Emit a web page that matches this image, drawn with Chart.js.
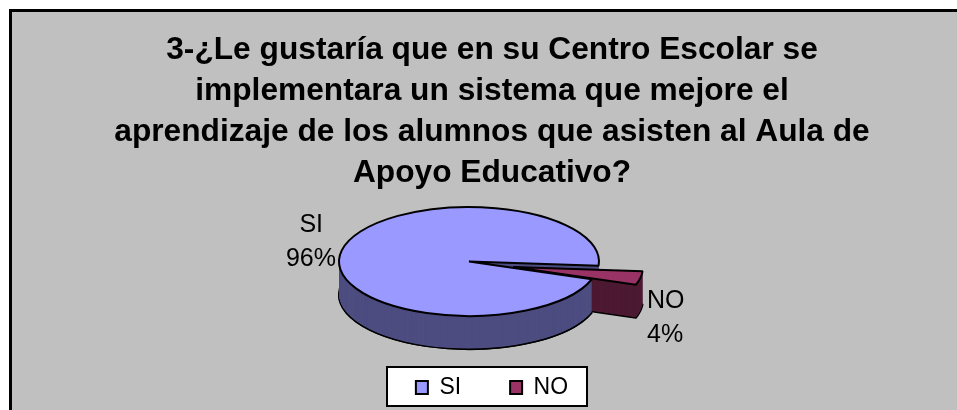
<!DOCTYPE html>
<html>
<head>
<meta charset="utf-8">
<style>
  html, body { margin: 0; padding: 0; background: #fff; }
  #wrap { width: 957px; height: 410px; }
</style>
<script src="https://cdn.jsdelivr.net/npm/chart.js@4"></script>
</head>
<body>
<div id="wrap"><canvas id="chart" width="957" height="410"></canvas></div>
<script>
var titleLines = [
    '3-¿Le gustaría que en su Centro Escolar se',
    'implementara un sistema que mejore el',
    'aprendizaje de los alumnos que asisten al Aula de',
    'Apoyo Educativo?'
];
var categories = ['SI', 'NO'];
var values = [96, 4];
var topColors = ['#9999ff', '#993366'];
var wallColors = ['#4d4d80', '#4d1a33'];

var FONT = '"Liberation Sans", Arial, sans-serif';

// look of the tilted pie
var pieCx = 469, pieCy = 261.5, pieRx = 130, pieRy = 54.5, pieDepth = 33;
var explodeX = 44, explodeY = 5.5;
var labelSize = 25;

function drawArc(ctx, arc, fill, stroke, dy) {
    var opts = Object.create(arc.options);
    opts.backgroundColor = fill;
    opts.borderColor = '#000';
    opts.borderWidth = stroke ? 2 : 0;
    var keep = arc.options;
    arc.options = opts;
    ctx.save();
    ctx.translate(0, dy);
    arc.draw(ctx);
    ctx.restore();
    arc.options = keep;
}

function drawWall(ctx, arc, color, depth, step) {
    drawArc(ctx, arc, color, true, depth);
    for (var d = depth - step; d > 0; d -= step) drawArc(ctx, arc, color, false, d);
}

var piePlugin = {
    id: 'tiltedPie',
    beforeDraw: function (chart) {
        var ctx = chart.ctx;
        ctx.save();
        ctx.fillStyle = '#fff';
        ctx.fillRect(0, 0, chart.width, chart.height);
        ctx.fillStyle = '#c0c0c0';
        ctx.fillRect(10, 10, chart.width, chart.height);
        ctx.strokeStyle = '#000';
        ctx.lineWidth = 3;
        ctx.beginPath();
        ctx.moveTo(10.5, chart.height);
        ctx.lineTo(10.5, 10.5);
        ctx.lineTo(chart.width, 10.5);
        ctx.stroke();
        // legend box
        ctx.fillStyle = '#fff';
        ctx.lineWidth = 2;
        ctx.fillRect(387, 367, 200, 39);
        ctx.strokeRect(387, 367, 200, 39);
        ctx.restore();
    },
    beforeDatasetsDraw: function (chart) {
        var ctx = chart.ctx;
        var arcs = chart.getDatasetMeta(0).data;
        var si = arcs[0], no = arcs[1];
        var r = si.outerRadius;
        var sx = pieRx / r, sy = pieRy / r;

        // keep line width even though the pie is squashed
        var proto = CanvasRenderingContext2D.prototype;
        ctx.stroke = function () {
            var t = ctx.getTransform();
            ctx.setTransform(1, 0, 0, 1, 0, 0);
            proto.stroke.call(ctx);
            ctx.setTransform(t);
        };

        ctx.save();
        ctx.translate(pieCx, pieCy);
        ctx.scale(sx, sy);
        ctx.translate(-si.x, -si.y);
        var depth = pieDepth / sy;
        var step = 0.5 / sy;

        // back of the big slice
        drawWall(ctx, si, wallColors[0], depth, step);

        // pulled out slice
        ctx.save();
        ctx.translate(explodeX / sx, explodeY / sy);
        drawWall(ctx, no, wallColors[1], depth, step);
        drawArc(ctx, no, topColors[1], true, 0);
        ctx.restore();

        // front wall of the big slice goes over the pulled out one
        var front = new Chart.ArcElement({
            x: si.x, y: si.y, startAngle: si.startAngle, endAngle: Math.PI,
            circumference: Math.PI - si.startAngle,
            innerRadius: 0, outerRadius: r
        });
        front.options = si.options;
        drawWall(ctx, front, wallColors[0], depth, step);

        drawArc(ctx, si, topColors[0], true, 0);
        ctx.restore();
        delete ctx.stroke;

        // data labels
        ctx.save();
        ctx.fillStyle = '#000';
        ctx.font = labelSize + 'px ' + FONT;
        ctx.textBaseline = 'middle';
        ctx.textAlign = 'right';
        ctx.fillText(categories[0], 323, 225);
        ctx.fillText(values[0] + '%', 336, 259);
        ctx.textAlign = 'left';
        ctx.fillText(categories[1], 647, 301);
        ctx.fillText(values[1] + '%', 647, 335);
        ctx.restore();
        return false;
    }
};

new Chart(document.getElementById('chart'), {
    type: 'pie',
    data: {
        labels: categories,
        datasets: [{ data: values, backgroundColor: topColors, borderColor: '#000', borderWidth: 2 }]
    },
    plugins: [piePlugin],
    options: {
        responsive: false,
        animation: false,
        rotation: 109,
        layout: { padding: { left: 27, bottom: 1 } },
        plugins: {
            tooltip: { enabled: false },
            title: {
                display: true,
                text: titleLines,
                color: '#000',
                font: { family: FONT, size: 31.7, weight: 'bold', lineHeight: 1.295 },
                padding: { top: 30, bottom: 0 }
            },
            legend: {
                position: 'bottom',
                labels: {
                    color: '#000',
                    font: { family: FONT, size: 23 },
                    boxWidth: 12,
                    boxHeight: 13,
                    padding: 49,
                    generateLabels: function (chart) {
                        return categories.map(function (c, i) {
                            return { text: c, fillStyle: topColors[i], strokeStyle: '#000', lineWidth: 2, index: i };
                        });
                    }
                }
            }
        }
    }
});
</script>
</body>
</html>
